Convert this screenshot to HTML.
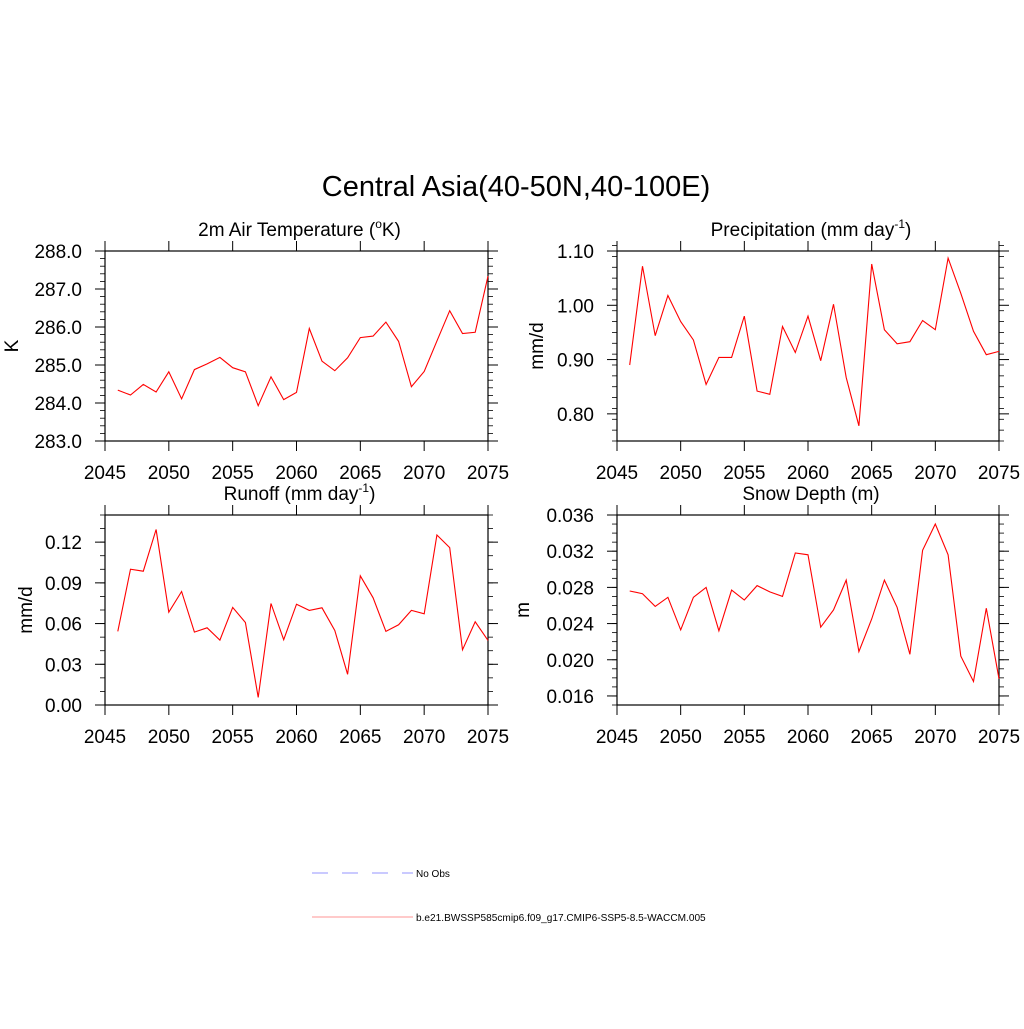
<!DOCTYPE html>
<html><head><meta charset="utf-8"><style>
body{margin:0;background:#fff;}
svg text{font-family:"Liberation Sans",sans-serif;fill:#000;}
</style></head><body>
<svg id="c" width="1024" height="1024" viewBox="0 0 1024 1024" xmlns="http://www.w3.org/2000/svg">
<rect width="1024" height="1024" fill="#fff"/>
<text x="516" y="196" font-size="29" text-anchor="middle">Central Asia(40-50N,40-100E)</text>
<g>
<line x1="312" y1="873" x2="413" y2="873" stroke="#aaaaff" stroke-width="1.2" stroke-dasharray="16,14"/>
<text x="416" y="877" font-size="10">No Obs</text>
<line x1="312" y1="917" x2="413" y2="917" stroke="#ffaaaa" stroke-width="1.2"/>
<text x="416" y="921" font-size="10.1">b.e21.BWSSP585cmip6.f09_g17.CMIP6-SSP5-8.5-WACCM.005</text>
</g>
</svg>
<script>
const years = [2046,2047,2048,2049,2050,2051,2052,2053,2054,2055,2056,2057,2058,2059,2060,2061,2062,2063,2064,2065,2066,2067,2068,2069,2070,2071,2072,2073,2074,2075];
const tempValues = [284.34,284.21,284.49,284.29,284.82,284.11,284.88,285.03,285.20,284.93,284.82,283.93,284.69,284.09,284.28,285.96,285.10,284.85,285.19,285.72,285.76,286.13,285.62,284.43,284.83,285.63,286.43,285.83,285.86,287.34];
const precipValues = [0.890,1.072,0.944,1.018,0.970,0.936,0.854,0.904,0.904,0.980,0.842,0.836,0.961,0.913,0.980,0.898,1.002,0.867,0.778,1.076,0.955,0.929,0.933,0.972,0.955,1.087,1.022,0.952,0.909,0.915];
const runoffValues = [0.0542,0.1001,0.0986,0.1293,0.0684,0.0836,0.0537,0.0569,0.0478,0.0719,0.0608,0.0056,0.0748,0.0481,0.0743,0.0697,0.0716,0.0549,0.0226,0.0952,0.0790,0.0542,0.0591,0.0697,0.0672,0.1253,0.1160,0.0407,0.0613,0.0476];
const snowValues = [0.0276,0.0273,0.0259,0.0269,0.0233,0.0269,0.0280,0.0232,0.0277,0.0266,0.0282,0.0275,0.0270,0.0318,0.0316,0.0236,0.0255,0.0288,0.0209,0.0245,0.0288,0.0258,0.0206,0.0321,0.0350,0.0316,0.0204,0.0176,0.0257,0.0179];
const xTickLabels = ["2045","2050","2055","2060","2065","2070","2075"];
const tempTicks = ["283.0","284.0","285.0","286.0","287.0","288.0"];
const precipTicks = ["0.80","0.90","1.00","1.10"];
const runoffTicks = ["0.00","0.03","0.06","0.09","0.12"];
const snowTicks = ["0.016","0.020","0.024","0.028","0.032","0.036"];

const NS='http://www.w3.org/2000/svg';
const svg=document.getElementById('c');
function mk(tag,attrs,parent){const e=document.createElementNS(NS,tag);for(const k in attrs)e.setAttribute(k,attrs[k]);(parent||svg).appendChild(e);return e;}

const panels=[
 {id:'temperature',x0:105,x1:488,y0:251,y1:441,ymin:283,ymax:288,minor:0.2,ticks:tempTicks,vals:tempValues,ylab:'K',yt:-87,title:'2m Air Temperature (',sup:'o',tail:'K)'},
 {id:'precipitation',x0:617,x1:999,y0:251,y1:441,ymin:0.75,ymax:1.10,minor:0.02,ticks:precipTicks,vals:precipValues,ylab:'mm/d',yt:-74,title:'Precipitation (mm day',sup:'-1',tail:')'},
 {id:'runoff',x0:105,x1:488,y0:515,y1:705,ymin:0,ymax:0.14,minor:0.01,ticks:runoffTicks,vals:runoffValues,ylab:'mm/d',yt:-73,title:'Runoff (mm day',sup:'-1',tail:')'},
 {id:'snow-depth',x0:617,x1:999,y0:515,y1:705,ymin:0.015,ymax:0.036,minor:0.001,ticks:snowTicks,vals:snowValues,ylab:'m',yt:-88,title:'Snow Depth (m)',sup:'',tail:''}
];
panels.forEach(p=>{
 const g=mk('g',{});
 
 
 const xs=v=>p.x0+(v-2045)/30*(p.x1-p.x0);
 const ys=v=>p.y1-(v-p.ymin)/(p.ymax-p.ymin)*(p.y1-p.y0);
 const fr=mk('rect',{x:p.x0,y:p.y0,width:p.x1-p.x0,height:p.y1-p.y0,fill:'none',stroke:'#000','stroke-width':1.2},g);
 
 
 xTickLabels.forEach(l=>{
  const x=xs(+l);
  mk('line',{x1:x,x2:x,y1:p.y1,y2:p.y1+10,stroke:'#000','stroke-width':1},g);
  mk('line',{x1:x,x2:x,y1:p.y0,y2:p.y0-10,stroke:'#000','stroke-width':1},g);
  const t=mk('text',{x:x,y:p.y1+38,'font-size':19,'text-anchor':'middle'},g);
  t.textContent=l;
  
  
 });
 const n=Math.round((p.ymax-p.ymin)/p.minor);
 for(let i=0;i<=n;i++){const y=ys(p.ymin+i*p.minor);
  mk('line',{x1:p.x0-5,x2:p.x0,y1:y,y2:y,stroke:'#000','stroke-width':0.8},g);
  mk('line',{x1:p.x1,x2:p.x1+5,y1:y,y2:y,stroke:'#000','stroke-width':0.8},g);}
 p.ticks.forEach(l=>{
  const y=ys(+l);
  mk('line',{x1:p.x0-10,x2:p.x0,y1:y,y2:y,stroke:'#000','stroke-width':1},g);
  mk('line',{x1:p.x1,x2:p.x1+10,y1:y,y2:y,stroke:'#000','stroke-width':1},g);
  const t=mk('text',{x:p.x0-23,y:y+7,'font-size':19,'text-anchor':'end'},g);
  t.textContent=l;
  
  
 });
 const yl=mk('text',{x:0,y:0,'font-size':19,'text-anchor':'middle',transform:`translate(${p.x0+p.yt},${(p.y0+p.y1)/2}) rotate(-90)`},g);
 yl.textContent=p.ylab;
 
 
 const tt=mk('text',{x:(p.x0+p.x1)/2+3,y:p.y0-15,'font-size':19,'text-anchor':'middle'},g);
 
 
 tt.appendChild(document.createTextNode(p.title));
 if(p.sup){const s=mk('tspan',{dy:-8,'font-size':12},tt);s.textContent=p.sup;
  const r=mk('tspan',{dy:8},tt);r.textContent=p.tail;}
 const pts=years.map((yr,i)=>xs(yr).toFixed(1)+','+ys(p.vals[i]).toFixed(1)).join(' ');
 const pl=mk('polyline',{points:pts,fill:'none',stroke:'#ff0000','stroke-width':1.1},g);
 
 
});
</script>
</body></html>
